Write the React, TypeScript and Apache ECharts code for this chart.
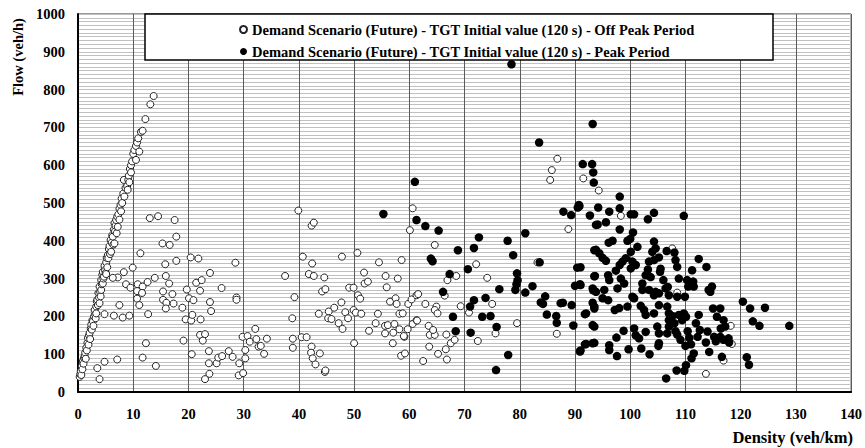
import React, { useEffect, useRef } from "react";
import * as echarts from "echarts";

const seriesNames = [
  "Demand Scenario (Future) - TGT Initial value (120 s) - Off Peak Period",
  "Demand Scenario (Future) - TGT Initial value (120 s) - Peak Period",
];

const xTicks = { min: 0, max: 140, interval: 10 };
const yTicks = { min: 0, max: 1000, interval: 100 };

// Off peak period (open circles): [density, flow]
const offPeakBranch = [
  [0.3,40],[0.4,47],[0.5,55],[0.6,45],[0.7,68],[0.8,60],[0.9,82],[1.0,75],[1.1,90],[1.2,95],[1.3,104],[1.4,88],
  [1.5,117],[1.6,110],[1.7,130],[1.8,143],[1.9,125],[2.0,150],[2.1,156],[2.2,140],[2.3,168],[2.4,178],[2.5,165],
  [2.6,190],[2.7,187],[2.8,175],[2.9,200],[3.0,217],[3.1,205],[3.2,195],[3.3,226],[3.3,208],[3.4,240],[3.5,244],
  [3.6,230],[3.7,262],[3.8,250],[3.9,279],[3.9,235],[4.0,265],[4.1,253],[4.2,296],[4.2,270],[4.3,285],[4.4,310],
  [4.5,318],[4.5,287],[4.6,300],[4.7,305],[4.8,334],[4.9,322],[5.0,315],[5.1,343],[5.1,312],[5.2,355],[5.3,330],
  [5.4,362],[5.5,354],[5.6,378],[5.7,386],[5.8,365],[5.9,402],[6.0,371],[6.1,395],[6.2,415],[6.3,411],[6.4,390],
  [6.5,430],[6.6,447],[6.6,393],[6.7,425],[6.8,440],[6.9,455],[7.0,420],[7.1,464],[7.2,437],[7.3,470],[7.5,485],
  [7.5,456],[7.7,495],[7.8,478],[7.9,512],[8.0,500],[8.2,525],[8.3,561],[8.4,517],[8.6,540],[8.9,545],[9.0,535],
  [9.1,561],[9.2,572],[9.3,555],[9.4,590],[9.6,600],[9.6,581],[9.8,610],[10.0,630],[10.2,640],[10.5,651],[10.5,614],
  [10.7,660],[10.9,671],[11.1,636],[11.4,688],[11.7,691],[12.2,722],[13.1,761],[13.7,783],
];

const offPeakLow = [
  [13.0,460],[14.5,465],[17.5,455],[15.3,393],[11.3,367],[9.9,329],[8.3,317],[7.2,303],[6.3,302],[8.7,285],
  [9.5,276],[10.8,285],[11.7,279],[12.6,291],[13.9,302],[10.7,267],[11.6,262],[10.7,247],[11.1,230],[7.5,230],
  [4.8,206],[6.5,202],[8.1,197],[9.3,202],[12.7,206],[12.3,129],[4.8,80],[7.1,86],[3.5,63],[11.7,91],[14.1,69],
  [3.9,34],[16.6,389],[17.8,411],[15.8,338],[17.8,347],[15.9,307],[16.5,287],[15.4,266],[15.4,244],[16.0,236],
  [15.9,221],[17.1,259],[17.3,234],[18.9,223],[19.7,271],[20.1,248],[20.9,243],[19.5,192],[20.5,189],[20.7,204],
  [19.1,136],[20.6,100],[20.4,356],[21.8,353],[21.4,289],[22.4,296],[22.1,268],[23.9,315],[22.2,192],[23.9,238],
  [24.1,214],[22.1,151],[23.0,153],[22.6,136],[23.7,108],[23.7,76],[23.8,48],[23.0,34],[25.1,76],[25.4,91],
  [26.1,95],[26.0,275],[27.3,108],[28.0,93],[28.5,342],[28.7,250],[28.7,244],[29.2,76],[29.1,44],[29.9,50],
  [29.8,146],[30.3,111],[30.3,89],[30.7,148],[31.1,133],[32.1,167],[32.3,140],[32.7,120],[33.1,122],[33.7,101],
  [34.2,141],[37.5,307],[38.8,195],[38.9,141],[38.9,117],[39.2,251],
];

const offPeakMid = [
  [39.9,480],[42.3,440],[42.7,448],[40.7,358],[42.4,340],[41.8,312],[42.7,307],[44.6,303],[44.2,266],[44.8,272],
  [43.6,207],[45.4,213],[46.4,223],[45.3,195],[45.9,193],[47.7,237],[47.2,182],[47.9,167],[48.4,211],[48.9,195],
  [47.8,358],[50.6,368],[49.1,276],[49.9,276],[50.7,256],[51.1,247],[49.9,217],[50.3,210],[51.3,207],[50.0,129],
  [51.8,316],[51.9,287],[52.5,292],[54.5,343],[52.7,162],[53.9,182],[54.3,207],[55.7,307],[55.9,277],[56.5,239],
  [57.5,248],[57.7,233],[57.9,300],[58.6,349],[58.2,207],[58.8,208],[55.6,175],[56.1,177],[55.6,155],[57.3,180],
  [57.1,157],[58.2,166],[57.0,129],[59.1,146],[58.5,96],[59.2,102],[59.7,166],[59.8,233],[60.4,245],[60.6,180],
  [61.3,190],[61.3,256],[60.1,428],[60.6,486],[40.5,145],[41.4,145],[42.3,120],[42.2,104],[42.5,89],[43.0,73],
  [43.8,102],[44.7,53],[44.8,57],
];

const offPeakHigh = [
  [64.6,389],[68.5,307],[66.9,296],[66.4,255],[61.6,259],[62.9,233],[64.9,226],[64.6,217],[65.1,208],[69.3,227],
  [72.1,338],[74.1,302],[75.0,233],[70.8,210],[75.6,155],[72.4,135],[79.5,182],[83.2,343],[86.7,154],[88.8,431],
  [85.5,561],[85.8,587],[86.8,617],[91.5,565],[61.4,189],[59.0,148],[63.5,175],[63.7,151],[64.6,151],[64.3,164],
  [63.6,120],[62.5,82],[65.2,101],[66.6,113],[67.5,129],[68.2,138],[66.8,86],[66.7,152],[94.3,533],[98.3,466],
  [107.6,380],[108.5,263],[118.2,175],[118.4,127],[116.9,83],[113.7,48],
];

// Peak period (filled circles): [density, flow]
const peakLeft = [
  [55.3,471],[61.0,556],[61.3,455],[62.9,439],[65.3,427],[63.9,353],[64.2,346],[68.8,375],[71.7,381],[72.6,409],
  [70.6,325],[67.3,312],[66.1,265],[67.9,199],[68.4,161],[71.0,226],[71.7,243],[73.8,249],[71.1,157],[73.2,199],
  [74.7,201],[75.8,172],[76.3,272],[77.8,400],[78.8,362],[79.5,314],[79.6,295],[79.4,285],[79.2,270],[77.9,98],
  [75.7,58],[78.5,867],[81.0,420],[81.0,263],[82.3,280],[83.6,343],[83.5,660],[84.6,253],[83.8,237],[84.2,233],
  [84.9,205],[86.6,201],[86.7,183],[87.4,235],[87.8,236],[89.4,230],[89.7,176],[87.9,477],[89.3,468],[90.5,488],
  [90.8,492],[91.4,603],[93.1,603],[93.3,581],[93.4,554],[93.2,709],[92.7,467],[90.4,329],[90.0,281],[90.9,285],
  [91.8,206],[93.2,177],[93.2,129],[91.8,126],[90.9,107],[93.5,375],[93.3,269],[93.5,306],[93.8,442],[93.5,226],
];

const peakCluster = [
  [90.7,495],[94.2,488],[96.2,477],[98.1,517],[98.1,486],[100.1,470],[100.7,470],[104.3,474],[103.2,457],[109.7,466],
  [95.6,449],[94.1,443],[98.1,430],[100.5,422],[99.5,400],[100.0,405],[96.1,395],[96.8,400],[101.3,384],[93.8,376],
  [94.4,367],[95.6,347],[95.0,355],[104.3,398],[104.6,380],[104.0,371],[106.6,373],[108.0,369],[100.1,371],[99.2,354],
  [98.6,345],[98.1,336],[100.4,345],[101.0,336],[100.1,327],[97.4,321],[96.0,309],[93.6,307],[91.0,330],[103.4,345],
  [104.3,349],[105.2,356],[108.2,349],[108.5,331],[112.4,352],[113.8,331],[111.2,322],[103.2,324],[102.8,309],[103.7,304],
  [105.5,326],[105.4,318],[106.0,296],[98.3,300],[98.9,287],[96.2,296],[91.0,283],[93.2,274],[93.8,265],[95.3,270],
  [95.0,248],[97.7,274],[108.8,300],[110.3,296],[111.4,292],[111.5,279],[102.2,287],[102.2,270],[103.4,270],[104.6,265],
  [104.3,256],[105.2,261],[106.4,274],[107.0,256],[106.8,278],[108.5,252],[109.9,252],[110.5,279],[114.8,279],[114.5,265],
  [114.2,270],[100.7,248],[100.4,252],[99.5,226],[98.0,222],[97.2,217],[96.0,243],[93.2,236],[93.5,221],[92.0,208],
  [101.9,228],[102.5,217],[102.8,204],[104.3,208],[105.2,230],[106.7,226],[107.0,208],[107.0,190],[107.6,201],[108.8,204],
  [109.7,208],[110.1,199],[109.4,190],[112.4,204],[115.0,221],[116.3,221],[115.7,199],[116.9,190],[117.2,173],[116.4,168],
  [93.5,173],[92.0,127],[93.5,130],[91.0,110],[96.2,124],[96.2,111],[97.6,95],[97.5,144],[98.8,162],[99.7,113],
  [100.7,168],[101.0,150],[101.6,142],[102.0,115],[102.8,159],[103.5,100],[104.9,173],[105.2,155],[105.2,129],[105.1,122],
  [106.7,155],[107.0,173],[108.0,182],[108.2,161],[108.5,152],[109.1,138],[110.4,161],[110.7,143],[111.0,126],[110.0,122],
  [111.5,102],[111.1,89],[111.9,182],[112.2,146],[112.6,164],[113.7,131],[114.0,160],[114.3,106],[115.2,146],[115.5,134],
  [116.3,146],[116.9,138],[117.8,142],[117.9,131],[116.6,93],[110.1,71],[109.8,56],[108.4,57],[106.5,36],[120.4,239],
  [121.7,221],[124.4,223],[122.2,187],[123.4,175],[121.1,92],[121.5,72],[128.8,175],
];

const FONT = "'Liberation Serif', 'DejaVu Serif', serif";

export default function App() {
  const ref = useRef<HTMLDivElement>(null);
  useEffect(() => {
    if (!ref.current) return;
    const chart = echarts.init(ref.current, undefined, { renderer: "svg" });
    const offPeak = [...offPeakBranch, ...offPeakLow, ...offPeakMid, ...offPeakHigh];
    const peak = [...peakLeft, ...peakCluster];
    chart.setOption({
      animation: false,
      backgroundColor: "#fff",
      grid: {
        left: 78, right: 10, top: 14, bottom: 56,
        show: true, borderColor: "#333", borderWidth: 1,
      },
      xAxis: {
        type: "value", min: xTicks.min, max: xTicks.max, interval: xTicks.interval,
        axisLine: { show: true, onZero: false, lineStyle: { color: "#000", width: 2 } },
        axisTick: { show: false },
        axisLabel: { color: "#000", fontFamily: FONT, fontWeight: "bold", fontSize: 14.5, margin: 14, formatter: (v: number) => String(v) },
        splitLine: { show: true, lineStyle: { color: "#5a5a5a", width: 1 } },
      },
      yAxis: {
        type: "value", min: yTicks.min, max: yTicks.max, interval: yTicks.interval,
        axisLine: { show: true, onZero: false, lineStyle: { color: "#000", width: 2 } },
        axisTick: { show: false },
        axisLabel: { color: "#000", fontFamily: FONT, fontWeight: "bold", fontSize: 14.5, margin: 13, formatter: (v: number) => String(v) },
        splitLine: { show: true, lineStyle: { color: "#c0c0c0", width: 1 } },
        minorTick: { show: false, splitNumber: 10 },
        minorSplitLine: { show: true, lineStyle: { color: "#c0c0c0", width: 1 } },
      },
      legend: {
        orient: "vertical", left: 234, top: 17, z: 10,
        itemWidth: 7, itemHeight: 7, itemGap: 7, icon: "circle",
        textStyle: { color: "#000", fontFamily: FONT, fontWeight: "bold", fontSize: 14.5 },
        data: seriesNames,
      },
      graphic: [
        {
          type: "rect", z: 8, shape: { x: 145, y: 14, width: 628, height: 46 },
          style: { fill: "#fff", stroke: "#000", lineWidth: 1.5 },
        },
        {
          type: "text", x: 18, y: 57, rotation: Math.PI / 2, z: 10,
          style: { text: "Flow (veh/h)", font: `bold 14.5px ${FONT}`, fill: "#000", textAlign: "center", textVerticalAlign: "middle" },
        },
        {
          type: "text", x: 853, y: 437, z: 10,
          style: { text: "Density (veh/km)", font: `bold 16.5px ${FONT}`, fill: "#000", textAlign: "right", textVerticalAlign: "middle" },
        },
      ],
      series: [
        {
          name: seriesNames[0], type: "scatter", data: offPeak, symbol: "circle", symbolSize: 7,
          itemStyle: { color: "#fff", borderColor: "#222", borderWidth: 1, opacity: 1 },
        },
        {
          name: seriesNames[1], type: "scatter", data: peak, symbol: "circle", symbolSize: 8.5,
          itemStyle: { color: "#000", opacity: 1 },
        },
      ],
    });
    return () => chart.dispose();
  }, []);
  return <div ref={ref} style={{ position: "fixed", left: 0, top: 0, width: 865, height: 448 }} />;
}
